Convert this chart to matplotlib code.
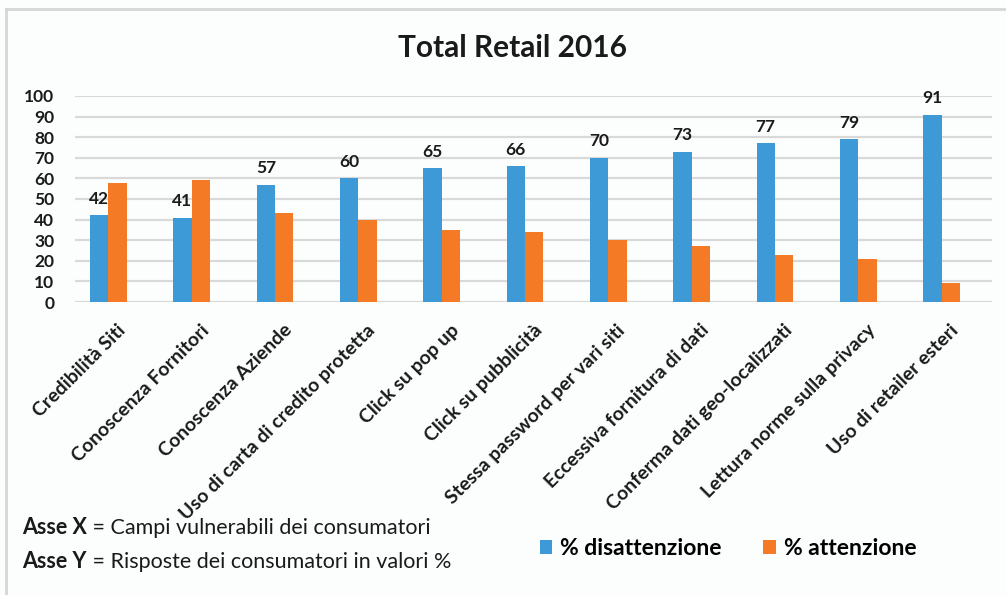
"""
Total Retail 2016 - grafico a barre disattenzione / attenzione
"""

import matplotlib.pyplot as plt
import numpy as np

categorie = [
    "Credibilità Siti",
    "Conoscenza Fornitori",
    "Conoscenza Aziende",
    "Uso di carta di credito protetta",
    "Click su pop up",
    "Click su pubblicità",
    "Stessa password per vari siti",
    "Eccessiva fornitura di dati",
    "Conferma dati geo-localizzati",
    "Lettura norme sulla privacy",
    "Uso di retailer esteri",
]
disattenzione = [42, 41, 57, 60, 65, 66, 70, 73, 77, 79, 91]
attenzione = [58, 59, 43, 40, 35, 34, 30, 27, 23, 21, 9]
etichette_y = [0, 10, 20, 30, 40, 50, 60, 70, 80, 90, 100]

BLU = "#3d9ad6"
ARANCIO = "#f47a26"

plt.rcParams["font.family"] = ["Lato", "DejaVu Sans"]

fig = plt.figure(figsize=(10.06, 5.95), dpi=100)
fig.patch.set_facecolor("#fcfdfd")

# cornice grigia (alto e sinistra)
fig.add_artist(plt.Line2D([0.006, 1.0], [0.985, 0.985], color="#d6d6d6", lw=2,
                          transform=fig.transFigure))
fig.add_artist(plt.Line2D([0.006, 0.006], [0.0, 0.985], color="#d6d6d6", lw=2,
                          transform=fig.transFigure))

ax = fig.add_axes([0.0746, 0.4924, 0.911, 0.3463])
ax.set_facecolor("#fcfdfd")

x = np.arange(len(categorie))
w = 0.22
b1 = ax.bar(x - w / 2, disattenzione, w, color=BLU, label="% disattenzione")
b2 = ax.bar(x + w / 2, attenzione, w, color=ARANCIO, label="% attenzione")

for xi, v in zip(x, disattenzione):
    ax.annotate(str(v), (xi - w / 2, v), xytext=(0, 6), textcoords="offset points",
                ha="center", va="bottom", fontsize=12.5, fontweight="bold", color="#1a1a1a")

ax.set_xlim(-0.4, 10.6)
ax.set_ylim(0, 100)
ax.set_yticks(etichette_y)
ax.set_yticklabels([str(t) for t in etichette_y], fontsize=12.5, fontweight="bold", color="#1a1a1a")
ax.yaxis.grid(True, color="#d9d9d9", linewidth=1.6)
ax.set_axisbelow(True)
ax.tick_params(axis="y", length=0, pad=15)
ax.tick_params(axis="x", length=0, pad=14)
ax.set_xticks(x + 0.1)
ax.set_xticklabels(categorie, rotation=45, ha="right", rotation_mode="anchor",
                   fontsize=14, fontweight="bold", color="#1a1a1a")
for s in ax.spines.values():
    s.set_visible(False)

fig.text(0.509, 0.92, "Total Retail 2016", ha="center", va="center",
         fontsize=21.5, fontweight="bold", color="#1a1a1a")

# note sugli assi, parte in grassetto + parte normale
renderer = fig.canvas.get_renderer()
for yy, testa, coda in [(0.113, "Asse X", " = Campi vulnerabili dei consumatori"),
                        (0.056, "Asse Y", " = Risposte dei consumatori in valori %")]:
    t = fig.text(0.022, yy, testa, fontsize=15.5, fontweight="bold", va="center", color="#1a1a1a")
    bb = t.get_window_extent(renderer)
    fig.text(bb.x1 / fig.bbox.width, yy, coda, fontsize=15.5, va="center", color="#1a1a1a")

fig.legend(handles=[b1, b2], loc="center left", bbox_to_anchor=(0.516, 0.078),
           ncol=2, frameon=False, prop={"size": 16.5, "weight": "bold"},
           handlelength=0.55, handleheight=0.55, handletextpad=0.35, columnspacing=1.8)

plt.savefig("out.png", dpi=100, facecolor=fig.get_facecolor())
